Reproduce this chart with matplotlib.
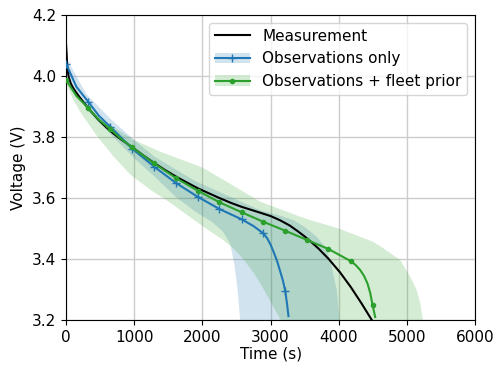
import matplotlib.pyplot as plt
import numpy as np
from matplotlib.lines import Line2D
from matplotlib.patches import Patch

# measured discharge curve
meas_t = [0, 8, 15, 25, 40, 70, 100, 150, 200, 323, 480, 646, 800, 968, 1130, 1291, 1450,
          1614, 1780, 1932, 2100, 2250, 2420, 2578, 2720, 2847, 3000, 3140, 3280, 3400, 3500,
          3580, 3700, 3849, 4020, 4177, 4330, 4485]
meas_v = [4.10, 4.07, 4.04, 4.015, 3.995, 3.975, 3.962, 3.945, 3.93, 3.895, 3.855, 3.82, 3.793,
          3.767, 3.74, 3.715, 3.692, 3.67, 3.65, 3.632, 3.615, 3.60, 3.584, 3.571, 3.561,
          3.552, 3.541, 3.527, 3.51, 3.491, 3.474, 3.459, 3.435, 3.401, 3.356, 3.308, 3.256, 3.20]

# observations only (mean + band)
obs_t = [0, 150, 323, 480, 646, 800, 968, 1291, 1614, 1932, 2250, 2578, 2750, 2895, 2950,
         3000, 3050, 3100, 3140, 3180, 3214, 3240, 3262]
obs_v = [4.04, 3.965, 3.916, 3.87, 3.834, 3.80, 3.762, 3.703, 3.649, 3.604, 3.564, 3.530,
         3.508, 3.484, 3.468, 3.447, 3.42, 3.39, 3.36, 3.33, 3.296, 3.255, 3.213]
obs_marks = [0, 2, 4, 6, 7, 8, 9, 10, 11, 13, 20]
obs_up_t = [0, 300, 650, 1000, 1300, 1600, 1900, 2250, 2550, 2850, 3100, 3335, 3500, 3678,
            3800, 3874, 3940, 3972, 4010]
obs_up_v = [4.06, 3.94, 3.86, 3.79, 3.735, 3.695, 3.655, 3.62, 3.59, 3.56, 3.545, 3.528,
            3.505, 3.473, 3.44, 3.397, 3.33, 3.298, 3.20]
obs_lo_t = [0, 300, 650, 1000, 1300, 1600, 1900, 2150, 2300, 2406, 2470, 2520, 2553]
obs_lo_v = [4.01, 3.89, 3.81, 3.73, 3.67, 3.605, 3.555, 3.52, 3.49, 3.451, 3.38, 3.29, 3.20]

# observations + fleet prior
fleet_t = [0, 150, 328, 480, 646, 800, 968, 1287, 1614, 1932, 2250, 2578, 2895, 3213, 3531,
           3849, 4177, 4250, 4314, 4370, 4421, 4460, 4495, 4534]
fleet_v = [3.987, 3.935, 3.894, 3.857, 3.826, 3.795, 3.766, 3.714, 3.665, 3.624, 3.586, 3.553,
           3.522, 3.493, 3.463, 3.433, 3.393, 3.38, 3.364, 3.345, 3.32, 3.29, 3.25, 3.21]
fleet_marks = [0, 2, 4, 6, 7, 8, 9, 10, 11, 12, 13, 14, 15, 16, 22]
fleet_up_t = [0, 250, 500, 1000, 1379, 2000, 2358, 2847, 3434, 3580, 4000, 4314, 4500, 4656,
              4901, 5048, 5140, 5195, 5234]
fleet_up_v = [4.00, 3.92, 3.86, 3.79, 3.752, 3.70, 3.653, 3.588, 3.539, 3.528, 3.50, 3.473,
              3.457, 3.435, 3.397, 3.342, 3.30, 3.256, 3.20]
fleet_lo_t = [0, 100, 200, 430, 700, 950, 1250, 1526, 2015, 2308, 2450, 2600, 2750, 2850,
              3000, 3150]
fleet_lo_v = [3.975, 3.925, 3.885, 3.81, 3.735, 3.675, 3.625, 3.585, 3.506, 3.462, 3.435, 3.40,
              3.355, 3.32, 3.26, 3.20]

blue = '#1f77b4'
green = '#2ca02c'


def band(ax, up_t, up_v, lo_t, lo_v, color):
    xs = list(up_t) + list(lo_t)[::-1]
    ys = list(up_v) + list(lo_v)[::-1]
    ax.fill(xs, ys, color=color, alpha=0.2, linewidth=0)


fig, ax = plt.subplots(figsize=(4.97, 3.65), dpi=100)
fig.subplots_adjust(left=0.133, right=0.956, top=0.959, bottom=0.123)

band(ax, obs_up_t, obs_up_v, obs_lo_t, obs_lo_v, blue)
band(ax, fleet_up_t, fleet_up_v, fleet_lo_t, fleet_lo_v, green)

ax.plot(meas_t, meas_v, color='black', linewidth=1.5, zorder=3)
ax.plot(obs_t, obs_v, color=blue, linewidth=1.5, marker='+', markersize=6,
        markevery=obs_marks, zorder=4)
ax.plot(fleet_t, fleet_v, color=green, linewidth=1.5, marker='.', markersize=6,
        markevery=fleet_marks, zorder=4)

ax.set_xlim(0, 6000)
ax.set_ylim(3.2, 4.2)
ax.set_yticks(np.arange(3.2, 4.21, 0.2))
ax.grid(True, color='#cccccc', linewidth=1)
ax.set_axisbelow(True)
ax.tick_params(labelsize=11)
ax.set_xlabel('Time (s)', fontsize=11, labelpad=1)
ax.set_ylabel('Voltage (V)', fontsize=11)

handles = [
    Line2D([], [], color='black', linewidth=1.5),
    (Patch(facecolor=blue, alpha=0.2), Line2D([], [], color=blue, linewidth=1.5, marker='+')),
    (Patch(facecolor=green, alpha=0.2), Line2D([], [], color=green, linewidth=1.5, marker='.')),
]
ax.legend(handles, ['Measurement', 'Observations only', 'Observations + fleet prior'],
          loc='upper right', fontsize=11, handlelength=2.3)

plt.savefig('out.png', dpi=100)
